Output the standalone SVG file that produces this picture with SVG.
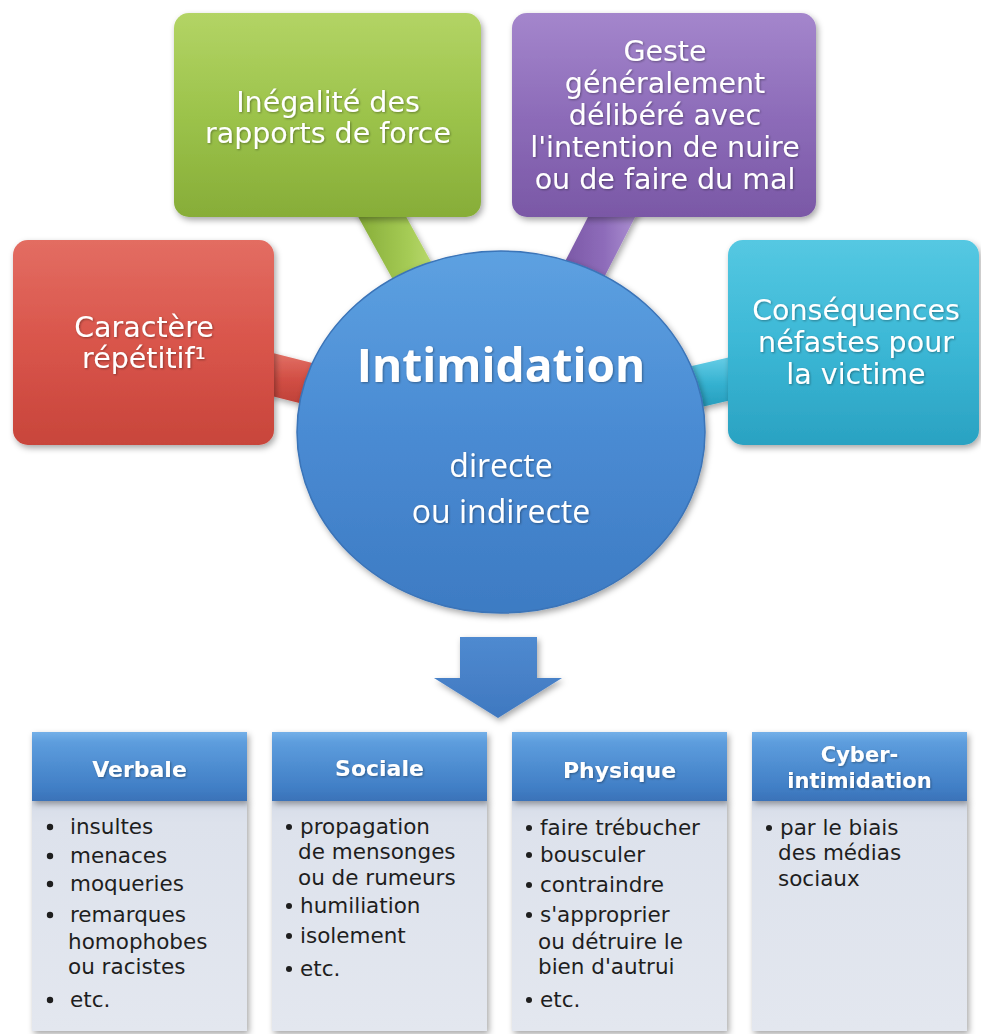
<svg xmlns="http://www.w3.org/2000/svg" width="981" height="1034" viewBox="0 0 981 1034">
<style>
.tb{font-family:"DejaVu Sans","Liberation Sans",sans-serif;font-size:28.5px;fill:#fff;text-anchor:middle}
.ct{font-family:"Open Sans","DejaVu Sans",sans-serif;fill:#fff;text-anchor:middle}
.hd{font-family:"DejaVu Sans","Liberation Sans",sans-serif;font-weight:bold;font-size:22px;fill:#fff;text-anchor:middle}
.hd2{font-size:21px}
.li{font-family:"DejaVu Sans","Liberation Sans",sans-serif;font-size:21.5px;fill:#1e1e1e}
.bl{fill:#1e1e1e}
.hdr{fill:url(#gHead)}
.body{fill:url(#gBody)}
</style>
<defs>
<filter id="sh" x="-10%" y="-10%" width="130%" height="130%">
<feDropShadow dx="2" dy="3" stdDeviation="3" flood-color="#000" flood-opacity="0.35"/>
</filter>
<filter id="ts" x="-5%" y="-20%" width="110%" height="150%">
<feDropShadow dx="1" dy="1" stdDeviation="0.8" flood-color="#000" flood-opacity="0.35"/>
</filter>
<linearGradient id="gRed" x1="0" y1="0" x2="0" y2="1"><stop offset="0" stop-color="#e36d62"/><stop offset="0.5" stop-color="#d9554b"/><stop offset="1" stop-color="#c8453b"/></linearGradient>
<linearGradient id="gGreen" x1="0" y1="0" x2="0" y2="1"><stop offset="0" stop-color="#b3d465"/><stop offset="0.5" stop-color="#9cc34b"/><stop offset="1" stop-color="#87ad38"/></linearGradient>
<linearGradient id="gPurple" x1="0" y1="0" x2="0" y2="1"><stop offset="0" stop-color="#a486cc"/><stop offset="0.5" stop-color="#8d6cb9"/><stop offset="1" stop-color="#7a58a6"/></linearGradient>
<linearGradient id="gCyan" x1="0" y1="0" x2="0" y2="1"><stop offset="0" stop-color="#55c8e2"/><stop offset="0.5" stop-color="#3cb8d6"/><stop offset="1" stop-color="#2aa2c2"/></linearGradient>
<linearGradient id="gBlue" x1="0" y1="0" x2="0" y2="1"><stop offset="0" stop-color="#5da1e1"/><stop offset="0.5" stop-color="#4a8bd3"/><stop offset="1" stop-color="#3d7bc3"/></linearGradient>
<linearGradient id="gArrow" x1="0" y1="0" x2="0" y2="1"><stop offset="0" stop-color="#4f8ad0"/><stop offset="1" stop-color="#3f78c0"/></linearGradient>
<linearGradient id="gHead" x1="0" y1="0" x2="0" y2="1"><stop offset="0" stop-color="#74b0e8"/><stop offset="0.15" stop-color="#5d9ddd"/><stop offset="0.8" stop-color="#417fc6"/><stop offset="1" stop-color="#3a72b8"/></linearGradient>
<linearGradient id="gBody" x1="0" y1="0" x2="0" y2="1"><stop offset="0" stop-color="#d6dce8"/><stop offset="0.1" stop-color="#dde2ec"/><stop offset="1" stop-color="#e3e7ef"/></linearGradient>
<linearGradient id="tGreen" x1="0" y1="0" x2="1" y2="0"><stop offset="0" stop-color="#83a935"/><stop offset="0.6" stop-color="#a5cb55"/><stop offset="1" stop-color="#c4e07a"/></linearGradient>
<linearGradient id="tPurple" x1="0" y1="0" x2="1" y2="0"><stop offset="0" stop-color="#74519f"/><stop offset="0.6" stop-color="#8e6cba"/><stop offset="1" stop-color="#b196d6"/></linearGradient>
<linearGradient id="tRed" x1="0" y1="0" x2="0" y2="1"><stop offset="0" stop-color="#e67a6f"/><stop offset="0.5" stop-color="#d24f45"/><stop offset="1" stop-color="#b93d34"/></linearGradient>
<linearGradient id="tCyan" x1="0" y1="0" x2="0" y2="1"><stop offset="0" stop-color="#6fd2ea"/><stop offset="0.5" stop-color="#34b1d0"/><stop offset="1" stop-color="#2396b6"/></linearGradient>
</defs>
<rect width="981" height="1034" fill="#fff"/>

<g id="connectors">
<polygon points="387.9,183.7 351.1,203.9 409.1,309 445.9,288.6" fill="url(#tGreen)" filter="url(#sh)"/>
<polygon points="641.6,204.6 604.2,185.4 549.3,292.1 586.7,311.3" fill="url(#tPurple)" filter="url(#sh)"/>
<polygon points="234.9,386.8 245.1,346 342.1,370.4 331.9,411.2" fill="url(#tRed)" filter="url(#sh)"/>
<polygon points="760.4,393.2 750.8,352.2 653.4,374.9 663,415.9" fill="url(#tCyan)" filter="url(#sh)"/>
<polygon id="arrow" points="460,637 537,637 537,678 562,678 498,718 434,678 460,678" fill="url(#gArrow)" filter="url(#sh)"/>
</g>

<g id="node-green">
<rect x="174" y="13" width="307" height="204" rx="15" fill="url(#gGreen)" filter="url(#sh)"/>
<text class="tb" filter="url(#ts)"><tspan x="328" y="112">Inégalité des</tspan><tspan x="328" y="143">rapports de force</tspan></text>
</g>
<g id="node-purple">
<rect x="512" y="13" width="304" height="204" rx="15" fill="url(#gPurple)" filter="url(#sh)"/>
<text class="tb" filter="url(#ts)"><tspan x="665" y="61">Geste</tspan><tspan x="665" y="93">généralement</tspan><tspan x="665" y="125">délibéré avec</tspan><tspan x="665" y="157">l'intention de nuire</tspan><tspan x="665" y="189">ou de faire du mal</tspan></text>
</g>
<g id="node-red">
<rect x="13" y="240" width="261" height="205" rx="15" fill="url(#gRed)" filter="url(#sh)"/>
<text class="tb" filter="url(#ts)"><tspan x="144" y="337">Caractère</tspan><tspan x="144" y="368">répétitif¹</tspan></text>
</g>
<g id="node-cyan">
<rect x="728" y="240" width="251" height="205" rx="15" fill="url(#gCyan)" filter="url(#sh)"/>
<text class="tb" filter="url(#ts)"><tspan x="856" y="320">Conséquences</tspan><tspan x="856" y="352">néfastes pour</tspan><tspan x="856" y="384">la victime</tspan></text>
</g>

<g id="node-center">
<ellipse cx="501" cy="432" rx="204" ry="181" fill="url(#gBlue)" stroke="#3b74b8" stroke-width="1.5" filter="url(#sh)"/>
<text class="ct" x="501" y="382" font-size="46" font-weight="bold" filter="url(#ts)">Intimidation</text>
<text class="ct" font-size="32" filter="url(#ts)"><tspan x="501" y="477">directe</tspan><tspan x="501" y="523">ou indirecte</tspan></text>
</g>

<g id="node-verbale">
<rect class="body" x="32" y="800" width="215" height="231" filter="url(#sh)"/>
<rect class="hdr" x="32" y="732" width="215" height="69" filter="url(#sh)"/>
<text class="hd" x="139.5" y="777" filter="url(#ts)">Verbale</text>
<circle class="bl" cx="50" cy="827" r="3.2"/><text class="li" x="70" y="834">insultes</text>
<circle class="bl" cx="50" cy="856" r="3.2"/><text class="li" x="70" y="863">menaces</text>
<circle class="bl" cx="50" cy="884" r="3.2"/><text class="li" x="70" y="891">moqueries</text>
<circle class="bl" cx="50" cy="915" r="3.2"/><text class="li"><tspan x="70" y="922">remarques</tspan><tspan x="68" y="949">homophobes</tspan><tspan x="68" y="974">ou racistes</tspan></text>
<circle class="bl" cx="50" cy="1000" r="3.2"/><text class="li" x="70" y="1007">etc.</text>
</g>

<g id="node-sociale">
<rect class="body" x="272" y="800" width="215" height="231" filter="url(#sh)"/>
<rect class="hdr" x="272" y="732" width="215" height="69" filter="url(#sh)"/>
<text class="hd" x="379.5" y="776" filter="url(#ts)">Sociale</text>
<circle class="bl" cx="289" cy="827" r="3"/><text class="li"><tspan x="300" y="834">propagation</tspan><tspan x="298" y="859">de mensonges</tspan><tspan x="298" y="885">ou de rumeurs</tspan></text>
<circle class="bl" cx="289" cy="906" r="3"/><text class="li" x="300" y="913">humiliation</text>
<circle class="bl" cx="289" cy="936" r="3"/><text class="li" x="300" y="943">isolement</text>
<circle class="bl" cx="289" cy="969" r="3"/><text class="li" x="300" y="976">etc.</text>
</g>

<g id="node-physique">
<rect class="body" x="512" y="800" width="215" height="231" filter="url(#sh)"/>
<rect class="hdr" x="512" y="732" width="215" height="69" filter="url(#sh)"/>
<text class="hd" x="619.5" y="778" filter="url(#ts)">Physique</text>
<circle class="bl" cx="529" cy="828" r="3"/><text class="li" x="540" y="835">faire trébucher</text>
<circle class="bl" cx="529" cy="855" r="3"/><text class="li" x="540" y="862">bousculer</text>
<circle class="bl" cx="529" cy="885" r="3"/><text class="li" x="540" y="892">contraindre</text>
<circle class="bl" cx="529" cy="915" r="3"/><text class="li"><tspan x="540" y="922">s'approprier</tspan><tspan x="538" y="949">ou détruire le</tspan><tspan x="538" y="974">bien d'autrui</tspan></text>
<circle class="bl" cx="529" cy="1000" r="3"/><text class="li" x="540" y="1007">etc.</text>
</g>

<g id="node-cyber">
<rect class="body" x="752" y="800" width="215" height="231" filter="url(#sh)"/>
<rect class="hdr" x="752" y="732" width="215" height="69" filter="url(#sh)"/>
<text class="hd hd2" filter="url(#ts)"><tspan x="859.5" y="762">Cyber-</tspan><tspan x="859.5" y="788">intimidation</tspan></text>
<circle class="bl" cx="769" cy="828" r="3"/><text class="li"><tspan x="780" y="835">par le biais</tspan><tspan x="778" y="860">des médias</tspan><tspan x="778" y="886">sociaux</tspan></text>
</g>
</svg>
